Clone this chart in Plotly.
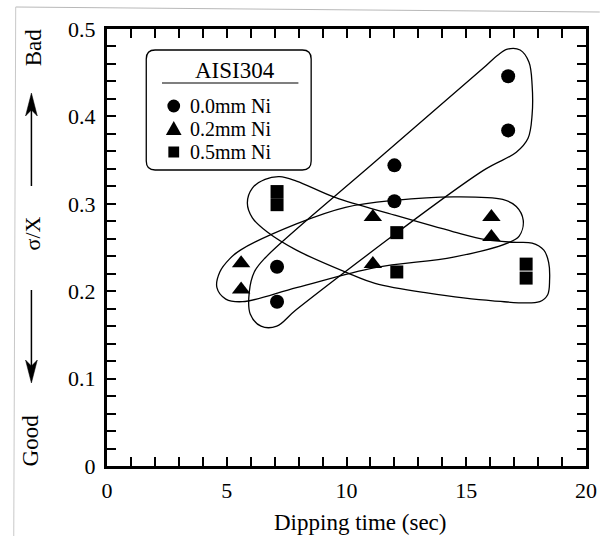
import plotly.graph_objects as go

# ---------------- data ----------------
ni00_x = [7.1, 7.1, 12.0, 12.0, 16.75, 16.75]
ni00_y = [0.188, 0.228, 0.303, 0.344, 0.384, 0.446]
ni02_x = [5.6, 5.6, 11.1, 11.1, 16.05, 16.05]
ni02_y = [0.202, 0.232, 0.231, 0.285, 0.262, 0.285]
ni05_x = [7.1, 7.1, 12.1, 12.1, 17.5, 17.5]
ni05_y = [0.299, 0.314, 0.222, 0.267, 0.215, 0.231]

series_names = ["0.0mm Ni", "0.2mm Ni", "0.5mm Ni"]
legend_title = "AISI304"

x_tick_labels = ["0", "5", "10", "15", "20"]
y_tick_labels = ["0", "0.1", "0.2", "0.3", "0.4", "0.5"]

# hand-drawn group outlines (data coordinates)
env00_x = [11.19, 15.70, 16.31, 16.72, 17.25, 17.62, 17.75, 17.75, 17.58, 17.09, 15.70,
           7.91, 7.09, 6.43, 5.98, 5.94, 6.15, 6.60, 11.19]
env00_y = [0.348, 0.455, 0.470, 0.477, 0.476, 0.462, 0.436, 0.402, 0.375, 0.359, 0.338,
           0.179, 0.160, 0.160, 0.174, 0.199, 0.222, 0.238, 0.348]
env02_x = [5.57, 7.91, 9.96, 12.01, 14.47, 16.52, 17.09, 17.38, 17.21, 16.72, 14.47,
           11.19, 7.91, 5.66, 4.96, 4.59, 4.71, 5.12, 5.57]
env02_y = [0.247, 0.277, 0.296, 0.304, 0.308, 0.305, 0.297, 0.281, 0.263, 0.255, 0.239,
           0.227, 0.204, 0.188, 0.191, 0.204, 0.222, 0.237, 0.247]
env05_x = [9.55, 12.01, 14.47, 15.82, 16.93, 17.75, 18.24, 18.44, 18.48, 18.40, 18.07,
           16.11, 13.36, 11.19, 10.04, 7.91, 6.68, 6.07, 5.86, 6.07, 6.60, 7.21, 7.91, 9.55]
env05_y = [0.307, 0.287, 0.268, 0.259, 0.256, 0.255, 0.247, 0.233, 0.213, 0.196, 0.188,
           0.189, 0.198, 0.209, 0.221, 0.247, 0.268, 0.284, 0.301, 0.318, 0.328, 0.331, 0.326, 0.307]

FONT = "Liberation Serif"

# plot area geometry (pixels)
L, R, T, B = 107, 14, 29, 72
W, H = 609, 538
PW, PH = W - L - R, H - T - B


def px(xp):
    return (xp - L) / PW


def py(yp):
    return (H - B - yp) / PH


fig = go.Figure()

# outlines
for ex, ey in [(env00_x, env00_y), (env02_x, env02_y), (env05_x, env05_y)]:
    fig.add_trace(go.Scatter(x=ex, y=ey, mode="lines",
                             line=dict(color="black", width=1.3, shape="spline", smoothing=1.0),
                             showlegend=False, hoverinfo="skip"))

# data
fig.add_trace(go.Scatter(x=ni00_x, y=ni00_y, mode="markers", name=series_names[0],
                         marker=dict(symbol="circle", size=14, color="black"), showlegend=False))
fig.add_trace(go.Scatter(x=ni02_x, y=ni02_y, mode="markers", name=series_names[1],
                         marker=dict(symbol="triangle-up", size=16, color="black"), showlegend=False))
fig.add_trace(go.Scatter(x=ni05_x, y=ni05_y, mode="markers", name=series_names[2],
                         marker=dict(symbol="square", size=13, color="black"), showlegend=False))

# ticks
xt_vals = list(range(0, 21))
xt_text = [x_tick_labels[v // 5] if v % 5 == 0 else "" for v in xt_vals]
yt_vals = [i * 0.02 for i in range(26)]
yt_text = [y_tick_labels[i // 5] if i % 5 == 0 else "" for i in range(26)]

axis_common = dict(showgrid=False, zeroline=False, showline=True, linecolor="black", linewidth=3,
                   mirror="ticks", ticks="inside", ticklen=9, tickwidth=1.5, tickcolor="black",
                   tickfont=dict(family=FONT, size=22, color="black"))
fig.update_xaxes(range=[0, 20], tickmode="array", tickvals=xt_vals, ticktext=xt_text,
                 ticklabelstandoff=3, **axis_common)
fig.update_yaxes(range=[0, 0.5], tickmode="array", tickvals=yt_vals, ticktext=yt_text,
                 ticklabelstandoff=4, **axis_common)

shapes = []
ann = []

# legend box (rounded)
x0, y0, x1, y1, r = 147, 50, 315, 170, 9
path = (f"M {px(x0+r)},{py(y0)} L {px(x1-r)},{py(y0)} Q {px(x1)},{py(y0)} {px(x1)},{py(y0+r)} "
        f"L {px(x1)},{py(y1-r)} Q {px(x1)},{py(y1)} {px(x1-r)},{py(y1)} "
        f"L {px(x0+r)},{py(y1)} Q {px(x0)},{py(y1)} {px(x0)},{py(y1-r)} "
        f"L {px(x0)},{py(y0+r)} Q {px(x0)},{py(y0)} {px(x0+r)},{py(y0)} Z")
shapes.append(dict(type="path", xref="paper", yref="paper", path=path,
                   line=dict(color="black", width=1.3), fillcolor="white", layer="below"))
shapes.append(dict(type="line", xref="paper", yref="paper", x0=px(163), x1=px(302), y0=py(83), y1=py(83),
                   line=dict(color="black", width=1.2)))
ann.append(dict(text=legend_title, xref="paper", yref="paper", x=px(237), y=py(70),
                xanchor="center", yanchor="middle", showarrow=False,
                font=dict(family=FONT, size=23, color="black")))
rows = [106, 129, 152]
for name, yr in zip(series_names, rows):
    ann.append(dict(text=name, xref="paper", yref="paper", x=px(190), y=py(yr),
                    xanchor="left", yanchor="middle", showarrow=False,
                    font=dict(family=FONT, size=20, color="black")))
# legend keys
kx = 175
shapes.append(dict(type="circle", xref="paper", yref="paper", x0=px(kx-6.5), x1=px(kx+6.5),
                   y0=py(rows[0]-6.5), y1=py(rows[0]+6.5), fillcolor="black", line=dict(width=0)))
tpath = f"M {px(kx)},{py(rows[1]-8)} L {px(kx+8)},{py(rows[1]+6)} L {px(kx-8)},{py(rows[1]+6)} Z"
shapes.append(dict(type="path", xref="paper", yref="paper", path=tpath, fillcolor="black",
                   line=dict(width=0)))
shapes.append(dict(type="rect", xref="paper", yref="paper", x0=px(kx-5.5), x1=px(kx+5.5),
                   y0=py(rows[2]-5.5), y1=py(rows[2]+5.5), fillcolor="black", line=dict(width=0)))

# y-axis side labels and arrows
for txt, xc, yc, sz in [("Bad", 33, 47, 23), ("σ/X", 31, 233, 22), ("Good", 29, 440, 23)]:
    ann.append(dict(text=txt, xref="paper", yref="paper", x=px(xc), y=py(yc), textangle=-90,
                    xanchor="center", yanchor="middle", showarrow=False,
                    font=dict(family=FONT, size=sz, color="black")))


def arrow(xc, tail, tip):
    d = 1 if tip > tail else -1
    shapes.append(dict(type="line", xref="paper", yref="paper", x0=px(xc), x1=px(xc),
                       y0=py(tail), y1=py(tip - d * 12), line=dict(color="black", width=1.5)))
    hp = (f"M {px(xc)},{py(tip)} L {px(xc+6)},{py(tip - d*23)} L {px(xc)},{py(tip - d*17)} "
          f"L {px(xc-6)},{py(tip - d*23)} Z")
    shapes.append(dict(type="path", xref="paper", yref="paper", path=hp, fillcolor="black",
                       line=dict(color="black", width=0.5)))


arrow(30, 186, 93)
arrow(30, 290, 383)

# x axis title
ann.append(dict(text="Dipping time (sec)", xref="paper", yref="paper", x=px(365), y=py(522),
                xanchor="center", yanchor="middle", showarrow=False,
                font=dict(family=FONT, size=23, color="black")))

# scan border
shapes.append(dict(type="line", xref="paper", yref="paper", x0=px(14), x1=px(609), y0=py(7), y1=py(12),
                   line=dict(color="#b8b8b8", width=1)))
shapes.append(dict(type="line", xref="paper", yref="paper", x0=px(14), x1=px(12), y0=py(7), y1=py(536),
                   line=dict(color="#c8c8c8", width=1)))

fig.update_layout(width=W, height=H, margin=dict(l=L, r=R, t=T, b=B),
                  paper_bgcolor="white", plot_bgcolor="white",
                  shapes=shapes, annotations=ann, showlegend=False,
                  font=dict(family=FONT, color="black"))

fig.write_html("out.html", config={"displayModeBar": False},
               post_script="document.body.style.margin='0';document.body.style.overflow='hidden';"
                           "document.documentElement.style.overflow='hidden';")
